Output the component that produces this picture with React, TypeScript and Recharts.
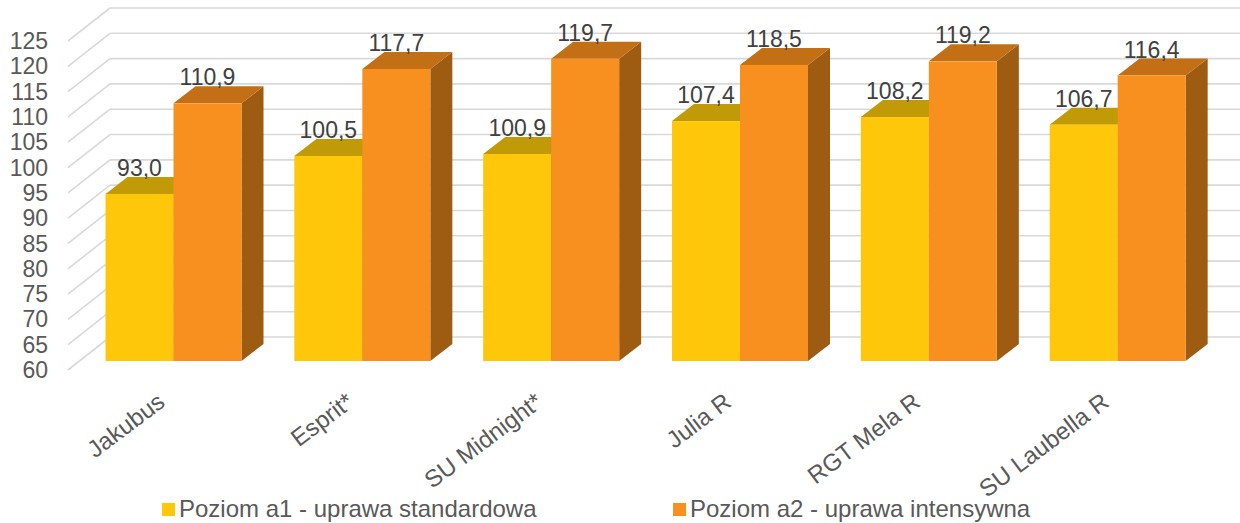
import React from 'react';
import { BarChart, Bar, XAxis, YAxis, CartesianGrid, Legend, LabelList } from 'recharts';

const categories = ['Jakubus', 'Esprit*', 'SU Midnight*', 'Julia R', 'RGT Mela R', 'SU Laubella R'];
const seriesA1 = [93.0, 100.5, 100.9, 107.4, 108.2, 106.7];
const seriesA2 = [110.9, 117.7, 119.7, 118.5, 119.2, 116.4];
const yTicks = [60, 65, 70, 75, 80, 85, 90, 95, 100, 105, 110, 115, 120, 125];
const nameA1 = 'Poziom a1 - uprawa standardowa';
const nameA2 = 'Poziom a2 - uprawa intensywna';

const data = categories.map((c, i) => ({ name: c, a1: seriesA1[i], a2: seriesA2[i] }));

const FONT = '"Liberation Sans", Arial, sans-serif';
// 3D geometry
const BAR_SHIFT_X = 11.5;
const BAR_SHIFT_Y = -9;
const DEPTH_X = 22;
const DEPTH_Y = -17;
const WALL_X = 42;
const WALL_Y = -33;

const makeShape = (front: string, top: string, side: string) => (props: any) => {
  const { x, y, width, height } = props;
  if (x == null || y == null) return <g />;
  const fx = x + BAR_SHIFT_X;
  const fy = y + BAR_SHIFT_Y;
  const w = width;
  const h = height;
  return (
    <g>
      <polygon
        points={`${fx + w},${fy} ${fx + w + DEPTH_X},${fy + DEPTH_Y} ${fx + w + DEPTH_X},${fy + h + DEPTH_Y} ${fx + w},${fy + h}`}
        fill={side}
      />
      <polygon
        points={`${fx},${fy} ${fx + w},${fy} ${fx + w + DEPTH_X},${fy + DEPTH_Y} ${fx + DEPTH_X},${fy + DEPTH_Y}`}
        fill={top}
      />
      <rect x={fx} y={fy} width={w} height={h} fill={front} />
    </g>
  );
};

const renderValueLabel = (props: any) => {
  const { x, y, width, value } = props;
  const cx = x + BAR_SHIFT_X + width / 2;
  const by = y + BAR_SHIFT_Y + DEPTH_Y - 1;
  return (
    <text x={cx} y={by} textAnchor="middle" fontSize={23} fontFamily={FONT} fill="#404040">
      {Number(value).toFixed(1).replace('.', ',')}
    </text>
  );
};

const gridLine = (props: any) => {
  const { x1, x2, y1, key } = props;
  return (
    <g key={key}>
      <line x1={x1} y1={y1} x2={x1 + WALL_X} y2={y1 + WALL_Y} stroke="#D9D9D9" strokeWidth={1.6} />
      <line x1={x1 + WALL_X} y1={y1 + WALL_Y} x2={x2 + WALL_X} y2={y1 + WALL_Y} stroke="#D9D9D9" strokeWidth={1.6} />
    </g>
  );
};

const YTick = (props: any) => {
  const { x, y, payload } = props;
  return (
    <text x={x} y={y} dy="0.35em" textAnchor="end" fontSize={23} fontFamily={FONT} fill="#595959">
      {payload.value}
    </text>
  );
};

const XTick = (props: any) => {
  const { x, y, payload } = props;
  const ax = x + 4;
  const ay = y + 35;
  return (
    <text x={ax} y={ay} textAnchor="end" transform={`rotate(-37 ${ax} ${ay})`} fontSize={24} fontFamily={FONT} fill="#595959">
      {payload.value}
    </text>
  );
};

const LegendContent = (props: any) => {
  const { payload } = props;
  return (
    <div style={{ display: 'flex', fontFamily: FONT, fontSize: 24, color: '#595959' }}>
      {(payload || []).map((p: any) => (
        <div key={p.value} style={{ width: 511, height: 30, display: 'flex', alignItems: 'center', whiteSpace: 'nowrap' }}>
          <span style={{ display: 'inline-block', width: 13, height: 13, background: p.color, marginRight: 4 }} />
          <span style={{ lineHeight: '30px' }}>{p.value}</span>
        </div>
      ))}
    </div>
  );
};

export default function App() {
  return (
    <div style={{ position: 'absolute', left: 0, top: 0, width: 1240, height: 523, background: '#fff' }}>
      <BarChart
        width={1240}
        height={523}
        data={data}
        margin={{ top: 41, right: 39, bottom: 53, left: 0 }}
        barGap={0}
        barSize={68}
      >
        <CartesianGrid vertical={false} horizontal={gridLine} />
        <XAxis
          dataKey="name"
          axisLine={false}
          tickLine={false}
          tickSize={0}
          tickMargin={0}
          height={100}
          interval={0}
          tick={<XTick />}
        />
        <YAxis
          domain={[60, 125]}
          ticks={yTicks}
          axisLine={false}
          tickLine={false}
          tickSize={0}
          tickMargin={20}
          width={68}
          interval={0}
          tick={<YTick />}
        />
        <Legend
          layout="horizontal"
          verticalAlign="middle"
          align="center"
          content={<LegendContent />}
          wrapperStyle={{ left: 162, top: 494, width: 1030 }}
        />
        <Bar dataKey="a1" name={nameA1} fill="#FFC709" isAnimationActive={false} shape={makeShape('#FFC709', '#C09A07', '#A3850A')}>
          <LabelList dataKey="a1" content={renderValueLabel} />
        </Bar>
        <Bar dataKey="a2" name={nameA2} fill="#F7901E" isAnimationActive={false} shape={makeShape('#F7901E', '#C26F16', '#9E5C12')}>
          <LabelList dataKey="a2" content={renderValueLabel} />
        </Bar>
      </BarChart>
    </div>
  );
}
